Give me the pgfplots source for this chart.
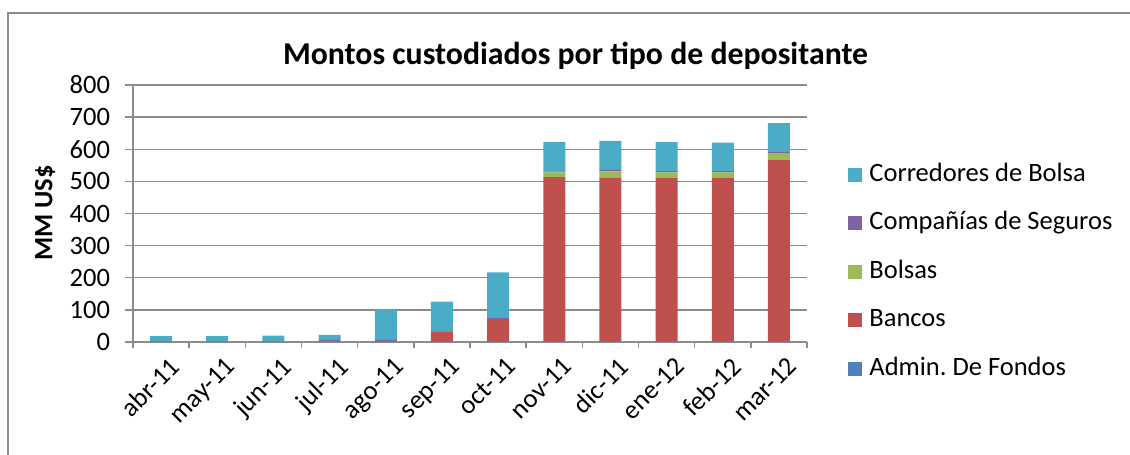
\documentclass[border=0pt]{standalone}
\usepackage{fontspec}
\setmainfont{Carlito}
\usepackage{pgfplots}
\pgfplotsset{compat=1.18}

\definecolor{corr}{HTML}{4BACC6}
\definecolor{seg}{HTML}{8064A2}
\definecolor{bol}{HTML}{9BBB59}
\definecolor{ban}{HTML}{C0504D}
\definecolor{adm}{HTML}{4F81BD}
\definecolor{axgray}{HTML}{8C8C8C}

% x: 0 = abr-11 ... 11 = mar-12
\pgfplotstableread{
x adm ban bol seg corr
0 1 0 0 1 16
1 1 0 0 1 16
2 1 0 0 1 18
3 1 1 0 5 15
4 1 2 0 4 93
5 1 32 0 2 91
6 1 70 0 3 143
7 3 510 15 3 91
8 3 508 20 5 90
9 3 507 18 4 90
10 3 507 18 4 89
11 3 565 20 3 90
}\montos

\begin{document}
\begin{tikzpicture}
\begin{axis}[
  scale only axis, width=337pt, height=128.5pt,
  ybar stacked, bar width=11pt,
  xmin=-0.5, xmax=11.5, ymin=0, ymax=800,
  ytick={0,100,...,800},
  xtick={0,...,11},
  xticklabels={abr-11,may-11,jun-11,jul-11,ago-11,sep-11,oct-11,nov-11,dic-11,ene-12,feb-12,mar-12},
  xtick style={draw=none},
  extra x ticks={-0.5,0.5,...,11.5},
  extra x tick labels={},
  extra x tick style={xtick style={draw=axgray, line width=0.7pt}, major tick length=3pt, tick align=outside},
  ytick style={draw=axgray, line width=0.7pt},
  tick align=outside, major tick length=4pt,
  axis x line*=bottom, axis y line*=left,
  axis line style={draw=axgray, line width=0.7pt},
  ymajorgrids, grid style={axgray, line width=0.7pt},
  tick label style={font=\fontsize{13.25}{15}\selectfont},
  /pgf/number format/assume math mode=true,
  yticklabel style={xshift=-4pt},
  xticklabel style={rotate=45, anchor=north east, xshift=4pt, yshift=-1pt},
  clip=false,
  reverse legend,
  legend style={draw=none, at={(1.052,0.274)}, anchor=west,
    font=\fontsize{13.25}{15}\selectfont,
    nodes={inner sep=0pt, text height=9pt, text depth=2.5pt},
    row sep=12.75pt},
  legend cell align=left,
  legend image code/.code={\fill[#1] (0pt,-3.5pt) rectangle (7pt,3.5pt);},
  every axis plot/.append style={draw=none},
]
\addplot[fill=adm] table[x=x,y=adm] {\montos};
\addlegendentry{\hspace{3.5pt}Admin.\ De Fondos}
\addplot[fill=ban] table[x=x,y=ban] {\montos};
\addlegendentry{\hspace{3.5pt}Bancos}
\addplot[fill=bol] table[x=x,y=bol] {\montos};
\addlegendentry{\hspace{3.5pt}Bolsas}
\addplot[fill=seg] table[x=x,y=seg] {\montos};
\addlegendentry{\hspace{3.5pt}Compañías de Seguros}
\addplot[fill=corr] table[x=x,y=corr] {\montos};
\addlegendentry{\hspace{3.5pt}Corredores de Bolsa}
\end{axis}
\useasboundingbox (-66.5pt,-56.5pt) rectangle (498.5pt,171pt);
\draw[axgray, line width=0.7pt] (-62.5pt,-56.5pt) -- (-62.5pt,164.5pt) -- (498.5pt,164.5pt);
\node[font=\fontsize{15.9}{18}\selectfont\bfseries] at (221.25pt,143pt) {Montos custodiados por tipo de depositante};
\node[font=\fontsize{13.25}{15}\selectfont\bfseries, rotate=90] at (-44pt,64.5pt) {MM US\$};
\end{tikzpicture}
\end{document}
